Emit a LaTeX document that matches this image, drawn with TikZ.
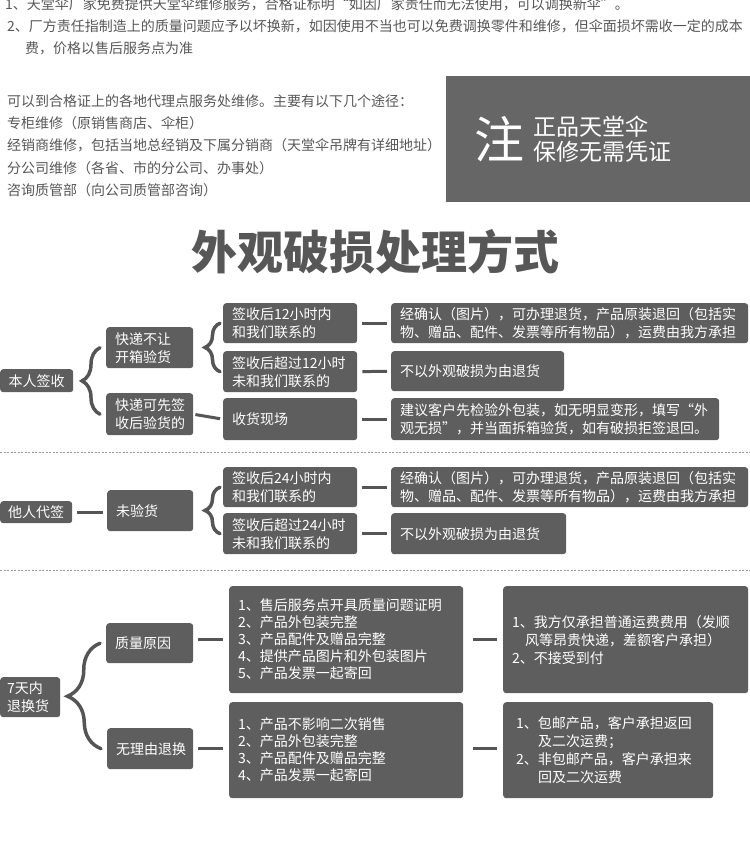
\documentclass[tikz,border=0pt]{standalone}
\usepackage{fontspec}
\setmainfont{Noto Sans CJK SC}
\usetikzlibrary{decorations.pathreplacing}

\definecolor{boxgray}{HTML}{5E5E5E}
\definecolor{notegray}{HTML}{666666}
\definecolor{txtgray}{HTML}{575757}
\definecolor{linegray}{HTML}{555555}
\definecolor{dashgray}{HTML}{9A9A9A}

\newcommand{\boxfont}{\fontsize{14}{18}\selectfont}
\newcommand{\listfont}{\fontsize{14}{17}\selectfont}

\begin{document}
\begin{tikzpicture}[x=1pt,y=-1pt,
  box/.style={rectangle, rounded corners=3pt, fill=boxgray, text=white, anchor=north west,
    align=left, inner xsep=9pt, inner ysep=0pt, font=\boxfont},
  plain/.style={anchor=west, inner sep=0pt, text=txtgray, font=\boxfont},
  link/.style={draw=linegray, line width=3pt, shorten <=5pt, shorten >=5pt},
  curly/.style={draw=linegray, line width=3.5pt, line cap=round, decorate,
    decoration={brace, amplitude=#1}},
  sep/.style={draw=dashgray, dashed, dash pattern=on 2pt off 1.5pt, line width=0.8pt}]
\useasboundingbox (0,0) rectangle (750,844);
\clip (0,0) rectangle (750,844);

% notes at the top, the first line runs off the page
\node[plain] (t1) at (5,4) {1、天堂伞厂家免费提供天堂伞维修服务，合格证标明“如因厂家责任而无法使用，可以调换新伞”。};
\node[plain] (t2) at (7,26) {2、厂方责任指制造上的质量问题应予以坏换新，如因使用不当也可以免费调换零件和维修，但伞面损坏需收一定的成本};
\node[plain] (t3) at (25,48) {费，价格以售后服务点为准};

\node[plain] (w1) at (7,101) {可以到合格证上的各地代理点服务处维修。主要有以下几个途径：};
\node[plain] (w2) at (7,123) {专柜维修（原销售商店、伞柜）};
\node[plain] (w3) at (7,145) {经销商维修，包括当地总经销及下属分销商（天堂伞吊牌有详细地址）};
\node[plain] (w4) at (7,168) {分公司维修（各省、市的分公司、办事处）};
\node[plain] (w5) at (7,190) {咨询质管部（向公司质管部咨询）};

% grey note panel
\fill[notegray] (446,76) rectangle (752,202);
\node[text=white, font=\fontsize{50}{50}\selectfont, inner sep=0pt] (zhu) at (499,139) {注};
\node[anchor=west, text=white, inner sep=0pt, font=\fontsize{23}{23}\selectfont] (zp1) at (533,127) {正品天堂伞};
\node[anchor=west, text=white, inner sep=0pt, font=\fontsize{23}{23}\selectfont] (zp2) at (533,152) {保修无需凭证};

\node[text=txtgray, font=\fontsize{46}{46}\selectfont\bfseries, inner sep=0pt] (title) at (375,252) {外观破损处理方式};

% first branch: signed by oneself
\node[box, align=center, inner xsep=0pt, minimum width=73pt, minimum height=23pt] (s1) at (0,369) {本人签收};
\node[box, text width=69pt, minimum height=41pt] (a1) at (106,327) {快递不让\\开箱验货};
\node[box, text width=69pt, minimum height=42pt] (a2) at (106,393) {快递可先签\\收后验货的};
\node[box, text width=116pt, minimum height=40pt] (b1) at (223,303) {签收后12小时内\\和我们联系的};
\node[box, text width=116pt, minimum height=41pt] (b2) at (223,351) {签收后超过12小时\\未和我们联系的};
\node[box, text width=116pt, minimum height=42pt] (b3) at (223,398) {收货现场};
\node[box, text width=339pt, minimum height=40pt] (c1) at (391,303) {经确认（图片），可办理退货，产品原装退回（包括实\\物、赠品、配件、发票等所有物品），运费由我方承担};
\node[box, text width=155pt, minimum height=40pt] (c2) at (391,351) {不以外观破损为由退货};
\node[box, text width=310pt, minimum height=42pt] (c3) at (391,398) {建议客户先检验外包装，如无明显变形，填写“外\\观无损”，并当面拆箱验货，如有破损拒签退回。};

\draw[curly=18pt] ([xshift=-6pt]a2.west) -- ([xshift=-6pt]a1.west);
\draw[curly=15pt] ([xshift=-3pt]b2.west) -- ([xshift=-3pt]b1.west);
\draw[link, shorten <=2pt, shorten >=3pt] (a2.east) -- (b3.west);
\draw[link, shorten >=4pt] (b1.east) -- (c1.west);
\draw[link, shorten >=4pt] (b2.east) -- (c2.west);
\draw[link, shorten >=4pt] (b3.east) -- (c3.west);

\draw[sep] (0,452) -- (750,452);

% second branch: signed by someone else
\node[box, align=center, inner xsep=0pt, minimum width=72pt, minimum height=22pt] (s2) at (0,501) {他人代签};
\node[box, text width=68pt, minimum height=41pt] (d1) at (107,490) {未验货};
\node[box, text width=116pt, minimum height=40pt] (e1) at (223,467) {签收后24小时内\\和我们联系的};
\node[box, text width=116pt, minimum height=41pt] (e2) at (223,513) {签收后超过24小时\\未和我们联系的};
\node[box, text width=339pt, minimum height=40pt] (f1) at (391,467) {经确认（图片），可办理退货，产品原装退回（包括实\\物、赠品、配件、发票等所有物品），运费由我方承担};
\node[box, text width=157pt, minimum height=41pt] (f2) at (391,513) {不以外观破损为由退货};

\draw[link, shorten >=4pt] (s2.east) -- (s2.east -| d1.west);
\draw[curly=15pt] ([xshift=-3pt]e2.west) -- ([xshift=-3pt]e1.west);
\draw[link, shorten >=4pt] (e1.east) -- (f1.west);
\draw[link, shorten >=4pt] (e2.east) -- (f2.west);

\draw[sep] (0,570) -- (750,570);

% third branch: return within 7 days
\node[box, text width=46pt, inner xsep=7pt, minimum height=40pt] (s3) at (0,677) {7天内\\退换货};
\node[box, text width=69pt, minimum height=40pt] (g1) at (106,623) {质量原因};
\node[box, text width=68pt, minimum height=41pt] (g2) at (107,728) {无理由退换};
\node[box, text width=216pt, minimum height=107pt, font=\listfont] (h1) at (229,586) {1、售后服务点开具质量问题证明\\2、产品外包装完整\\3、产品配件及赠品完整\\4、提供产品图片和外包装图片\\5、产品发票一起寄回};
\node[box, text width=216pt, minimum height=96pt, font=\listfont] (h2) at (229,702) {1、产品不影响二次销售\\2、产品外包装完整\\3、产品配件及赠品完整\\4、产品发票一起寄回};
\node[box, text width=227pt, minimum height=107pt] (i1) at (503,586) {1、我方仅承担普通运费费用（发顺\\\hspace*{13pt}风等昂贵快递，差额客户承担）\\2、不接受到付};
\node[box, inner xsep=13pt, text width=184pt, minimum height=96pt] (i2) at (503,702) {1、包邮产品，客户承担返回\\\hspace*{22pt}及二次运费；\\2、非包邮产品，客户承担来\\\hspace*{22pt}回及二次运费};

\draw[curly=33pt] ([xshift=-6pt]g2.west) -- ([xshift=-6pt]g1.west);
\draw[link, shorten >=6pt] (h1.west -| g1.east) -- (h1.west);
\draw[link, shorten <=10pt, shorten >=6pt] (h1.east) -- (i1.west);
\draw[link, shorten >=6pt] (g2.east) -- (g2.east -| h2.west);
\draw[link, shorten <=10pt, shorten >=6pt] (g2.east -| h2.east) -- (g2.east -| i2.west);
\end{tikzpicture}
\end{document}
